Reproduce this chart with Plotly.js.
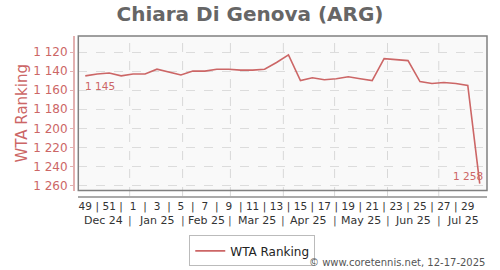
<!DOCTYPE html>
<html><head><meta charset="utf-8">
<script src="https://cdn.plot.ly/plotly-3.0.1.min.js"></script>
<style>html,body{margin:0;padding:0;background:#fff}</style>
</head><body><div id="chart" style="width:500px;height:270px"></div>
<script>
const dates = ['2024-12-06','2024-12-13','2024-12-20','2024-12-27',
  '2025-01-03','2025-01-10','2025-01-17','2025-01-24','2025-01-31',
  '2025-02-07','2025-02-14','2025-02-21','2025-02-28',
  '2025-03-07','2025-03-14','2025-03-21','2025-03-28',
  '2025-04-04','2025-04-11','2025-04-18','2025-04-25',
  '2025-05-02','2025-05-09','2025-05-16','2025-05-23','2025-05-30',
  '2025-06-06','2025-06-13','2025-06-20','2025-06-27',
  '2025-07-04','2025-07-11','2025-07-18','2025-07-25'];
const ranking = [1145,1143,1142,1145,1143,1143,1138,1141,1144,1140,1140,1138,1138,1139,1139,1138,1131,
  1123,1150,1147,1149,1148,1146,1148,1150,1127,1128,1129,1151,1153,1152,1153,1155,1258];
const weekNumbers = [49,50,51,52,1,2,3,4,5,6,7,8,9,10,11,12,13,14,15,16,17,18,19,20,21,22,23,24,25,26,27,28,29,30];
const monthStarts = ['2025-01-01','2025-02-01','2025-03-01','2025-04-01','2025-05-01','2025-06-01','2025-07-01'];
const monthLabels = ['Dec 24','Jan 25','Feb 25','Mar 25','Apr 25','May 25','Jun 25','Jul 25'];
const yTicks = [1120,1140,1160,1180,1200,1220,1240,1260];
const xRange = ['2024-12-01 22:00','2025-07-29 06:00'];
const yRange = [1265.2,1103.2];

const fmt = v => String(v).replace(/\B(?=(\d{3})+(?!\d))/g,' ');
const red = 'rgb(204,102,102)';

// week tick labels: every second week numbered, "|" between
const lastLabelIdx = weekNumbers.length - 2;
const wkVals = [], wkText = [];
for (let i = 0; i <= lastLabelIdx; i++) {
  wkVals.push(dates[i]);
  wkText.push(i % 2 === 0 ? String(weekNumbers[i]) : '|');
}

// month label positions: centres of visible month segments
const toMs = s => new Date(s.replace(' ','T') + (s.length <= 10 ? 'T00:00:00Z' : ':00Z')).getTime();
const bounds = [toMs(xRange[0]), ...monthStarts.map(toMs), toMs(xRange[1])];
const iso = ms => new Date(ms).toISOString().replace('T',' ').slice(0,19);
const monthY = -0.152;
const annotations = [];
monthLabels.forEach((lab, i) => {
  annotations.push({x: iso((bounds[i]+bounds[i+1])/2), y: monthY, xref:'x', yref:'paper',
    text: lab, showarrow:false, xanchor:'center', yanchor:'middle',
    font:{family:'DejaVu Sans', size:11, color:'#333'}});
});
monthStarts.forEach(m => {
  annotations.push({x: m, y: monthY, xref:'x', yref:'paper', text:'|', showarrow:false,
    xanchor:'center', yanchor:'middle', font:{family:'DejaVu Sans', size:11, color:'#555'}});
});
// first / last value labels
annotations.push({x: dates[0], y: ranking[0], xref:'x', yref:'y', text: fmt(ranking[0]),
  showarrow:false, xanchor:'left', yanchor:'top', xshift:-2, yshift:-2,
  font:{family:'DejaVu Sans', size:10.5, color:red}});
const n = ranking.length - 1;
annotations.push({x: dates[n], y: ranking[n], xref:'x', yref:'y', text: fmt(ranking[n]),
  showarrow:false, xanchor:'right', yanchor:'bottom', xshift:5, yshift:0,
  font:{family:'DejaVu Sans', size:10.5, color:red}});
// copyright
annotations.push({x: 1.0, y: -0.416, xref:'paper', yref:'paper', text:'© www.coretennis.net, 12-17-2025',
  showarrow:false, xanchor:'right', yanchor:'middle', font:{family:'DejaVu Sans', size:10, color:'#555'}});

const shapes = monthStarts.map(m => ({type:'line', xref:'x', yref:'paper', x0:m, x1:m, y0:0, y1:1,
  line:{color:'#d8d8d8', width:1, dash:'dash'}, layer:'below'}));
shapes.push({type:'rect', xref:'x domain', yref:'y domain', x0:0, x1:1, y0:0, y1:1,
  line:{color:'#808080', width:1.5}, fillcolor:'rgba(0,0,0,0)'});

const trace = {x: dates, y: ranking, type:'scatter', mode:'lines', name:'WTA Ranking',
  line:{color:red, width:1.6}, hoverinfo:'skip'};

const layout = {
  width:500, height:270,
  margin:{l:73, r:12.7, t:35.7, b:74.3, pad:0, autoexpand:false},
  paper_bgcolor:'#fff', plot_bgcolor:'#f9f9f9',
  separators:'. ',
  font:{family:'DejaVu Sans', color:'#333'},
  title:{text:'<b>Chiara Di Genova (ARG)</b>', x:0.5, xref:'container', xanchor:'center',
    y:0.948, yanchor:'middle',
    font:{family:'DejaVu Sans', size:20, color:'#666'}},
  xaxis:{type:'date', range:xRange, domain:[0.0128,1], anchor:'free', position:0, automargin:false,
    tickmode:'array', tickvals:wkVals, ticktext:wkText, showgrid:false, zeroline:false,
    showline:true, linecolor:'#aaa', linewidth:1.5, ticks:'', tickfont:{size:10.5, color:'#333'}},
  yaxis:{range:yRange, domain:[0.034,1], anchor:'free', position:0, automargin:false,
    tickmode:'array', tickvals:yTicks, tickformat:',d', showgrid:true, gridcolor:'#dcdcdc', griddash:'dash',
    zeroline:false, showline:true, linecolor:'#e2b0b0', linewidth:1.5, ticks:'outside', ticklen:3,
    tickcolor:'#e2b0b0', tickfont:{size:12, color:red},
    title:{text:'WTA Ranking', standoff:0, font:{size:15, color:red}}},
  showlegend:true,
  legend:{orientation:'h', x:0.433, xanchor:'center', y:-0.246, yanchor:'top', bgcolor:'#fff',
    bordercolor:'#bbb', borderwidth:1, font:{size:12, color:'#222'}, itemwidth:30},
  annotations, shapes
};
Plotly.newPlot('chart', [trace], layout, {staticPlot:true, displayModeBar:false});
</script></body></html>
